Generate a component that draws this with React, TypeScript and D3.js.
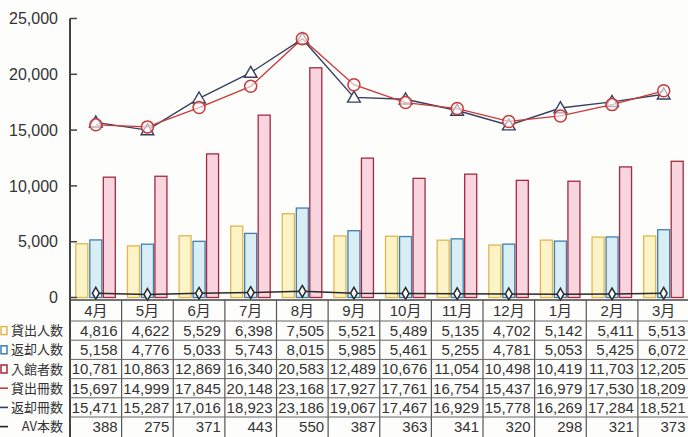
import * as d3 from 'd3';

const months = ['4月', '5月', '6月', '7月', '8月', '9月', '10月', '11月', '12月', '1月', '2月', '3月'];
const lendPeople = [4816, 4622, 5529, 6398, 7505, 5521, 5489, 5135, 4702, 5142, 5411, 5513];
const returnPeople = [5158, 4776, 5033, 5743, 8015, 5985, 5461, 5255, 4781, 5053, 5425, 6072];
const visitors = [10781, 10863, 12869, 16340, 20583, 12489, 10676, 11054, 10498, 10419, 11703, 12205];
const lendBooks = [15697, 14999, 17845, 20148, 23168, 17927, 17761, 16754, 15437, 16979, 17530, 18209];
const returnBooks = [15471, 15287, 17016, 18923, 23186, 19067, 17467, 16929, 15778, 16269, 17284, 18521];
const avCount = [388, 275, 371, 443, 550, 387, 363, 341, 320, 298, 321, 373];
const yTicks = [0, 5000, 10000, 15000, 20000, 25000];

const W = 688;
const H = 437;
const NUM_FONT = '"Liberation Sans", Arial, "Noto Sans CJK JP", sans-serif';
const JP_FONT = '"Noto Sans CJK JP", "Liberation Sans", sans-serif';
const TEXT = '#333';

export default function App() {
  const x = d3.scaleBand<string>().domain(months).range([70, 689.5]);
  const y = d3.scaleLinear().domain([0, 25000]).range([297.5, 18.5]);
  const cx = (i: number) => x(months[i])! + x.bandwidth() / 2;
  const fmt = d3.format(',');

  const bars = [
    { data: lendPeople, off: -14, fill: '#fcf4c6', stroke: '#e2b650' },
    { data: returnPeople, off: 0, fill: '#d9edf5', stroke: '#3f7fae' },
    { data: visitors, off: 13.5, fill: '#f8d5df', stroke: '#a5293f' },
  ];
  const barW = 12;

  const line = d3.line<number>().x((_, i) => cx(i)).y(d => y(d));
  const tri = d3.symbol().type(d3.symbolTriangle).size(70)()!;
  const dia = d3.symbol().type(d3.symbolDiamond).size(40)()!;

  const rowTop = 321;
  const rowH = 19.2;
  const rows = [
    { label: '貸出人数', data: lendPeople, key: 'sq', color: '#e2b650' },
    { label: '返却人数', data: returnPeople, key: 'sq', color: '#3f7fae' },
    { label: '入館者数', data: visitors, key: 'sq', color: '#a5293f' },
    { label: '貸出冊数', data: lendBooks, key: 'ln', color: '#c8393a' },
    { label: '返却冊数', data: returnBooks, key: 'ln', color: '#34405e' },
    { label: 'AV本数', data: avCount, key: 'ln', color: '#222' },
  ];

  return (
    <svg width={W} height={H} style={{ position: 'fixed', left: 0, top: 0, background: '#fdfdfb' }}>
      {/* bars */}
      {bars.map((b, bi) =>
        b.data.map((v, i) => (
          <rect
            key={`b${bi}-${i}`}
            x={cx(i) + b.off - barW / 2}
            y={y(v)}
            width={barW}
            height={y(0) - y(v)}
            fill={b.fill}
            stroke={b.stroke}
            strokeWidth={1.3}
          />
        ))
      )}

      {/* AV line */}
      <path d={line(avCount)!} fill="none" stroke="#2a2a2a" strokeWidth={1.5} />
      {avCount.map((v, i) => (
        <path key={`av${i}`} d={dia} transform={`translate(${cx(i)},${y(v)})`} fill="#fff" stroke="#2a2a2a" strokeWidth={1.5} />
      ))}

      {/* lending books line (triangles) */}
      <path d={line(lendBooks)!} fill="none" stroke="#34405e" strokeWidth={1.4} />
      {lendBooks.map((v, i) => (
        <path key={`t${i}`} d={tri} transform={`translate(${cx(i)},${y(v) + 1})`} fill="#fff" stroke="#34405e" strokeWidth={1.4} />
      ))}

      {/* returned books line (circles) */}
      <path d={line(returnBooks)!} fill="none" stroke="#c8393a" strokeWidth={1.3} />
      {returnBooks.map((v, i) => (
        <circle key={`c${i}`} cx={cx(i)} cy={y(v)} r={6} fill="#fff" fillOpacity={0.6} stroke="#c8393a" strokeWidth={1.5} />
      ))}

      {/* y axis */}
      <line x1={70} x2={70} y1={y(25000)} y2={H} stroke="#444" strokeWidth={2} />
      {yTicks.map(t => (
        <g key={`yt${t}`}>
          <line x1={70} x2={77} y1={y(t)} y2={y(t)} stroke="#444" strokeWidth={1.5} />
          <text x={58} y={y(t)} dy="0.35em" textAnchor="end" fontSize={16} fontFamily={NUM_FONT} fill={TEXT}>
            {fmt(t)}
          </text>
        </g>
      ))}

      {/* table */}
      <line x1={70} x2={W} y1={300} y2={300} stroke="#444" strokeWidth={1.5} />
      {months.map((m, i) => (
        <line key={`v${i}`} x1={x(m)! + x.bandwidth()} x2={x(m)! + x.bandwidth()} y1={300} y2={H} stroke="#555" strokeWidth={1.2} />
      ))}
      {months.map((m, i) => (
        <text key={`h${i}`} x={cx(i)} y={311} dy="0.36em" textAnchor="middle" fontSize={15} fontFamily={NUM_FONT} fill={TEXT}>
          {m}
        </text>
      ))}
      {rows.map((r, ri) => {
        const top = rowTop + ri * rowH;
        const mid = top + rowH / 2;
        return (
          <g key={`r${ri}`}>
            <line x1={70} x2={W} y1={top} y2={top} stroke="#666" strokeWidth={1} />
            {r.key === 'sq' ? (
              <rect x={1} y={mid - 4} width={6} height={8} fill="none" stroke={r.color} strokeWidth={1.5} />
            ) : (
              <line x1={0} x2={8} y1={mid} y2={mid} stroke={r.color} strokeWidth={1.6} />
            )}
            <text x={63} y={mid} dy="0.36em" textAnchor="end" fontSize={13} fontFamily={JP_FONT} fill={TEXT}>
              {r.label}
            </text>
            {r.data.map((v, i) => (
              <text
                key={`n${i}`}
                x={x(months[i])! + x.bandwidth() - 4}
                y={mid}
                dy="0.36em"
                textAnchor="end"
                fontSize={15}
                fontFamily={NUM_FONT}
                fill={TEXT}
              >
                {fmt(v)}
              </text>
            ))}
          </g>
        );
      })}
    </svg>
  );
}
